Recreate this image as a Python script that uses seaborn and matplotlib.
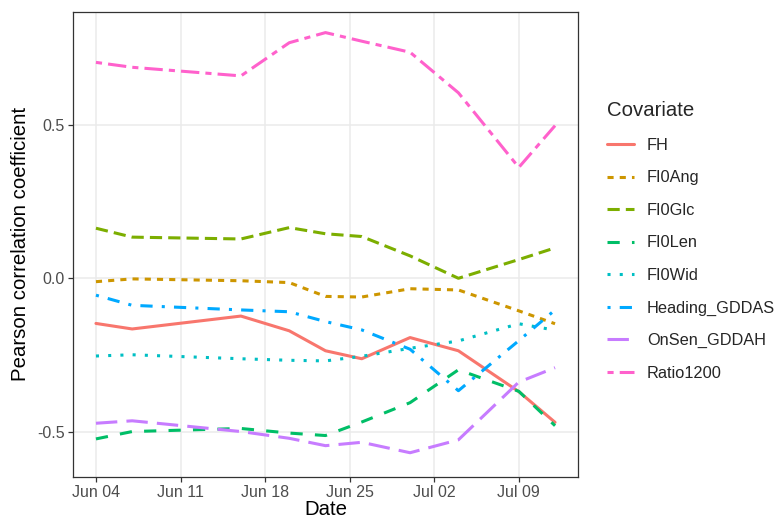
import numpy as np
import pandas as pd
import matplotlib
matplotlib.use("Agg")
import matplotlib.pyplot as plt
import matplotlib.dates as mdates
import seaborn as sns

dates = ["2019-06-04", "2019-06-07", "2019-06-16", "2019-06-20", "2019-06-23",
         "2019-06-26", "2019-06-30", "2019-07-04", "2019-07-09", "2019-07-12"]

FH = [-0.147, -0.165, -0.123, -0.171, -0.236, -0.262, -0.193, -0.236, -0.369, -0.469]
FI0Ang = [-0.011, -0.002, -0.008, -0.014, -0.059, -0.061, -0.034, -0.038, -0.106, -0.148]
FI0Glc = [0.163, 0.134, 0.128, 0.165, 0.145, 0.136, 0.073, 0.000, 0.061, 0.099]
FI0Len = [-0.523, -0.499, -0.489, -0.504, -0.512, -0.468, -0.405, -0.298, -0.368, -0.480]
FI0Wid = [-0.253, -0.249, -0.262, -0.267, -0.269, -0.254, -0.228, -0.204, -0.148, -0.169]
Heading_GDDAS = [-0.055, -0.088, -0.103, -0.109, -0.141, -0.168, -0.231, -0.366, -0.203, -0.103]
OnSen_GDDAH = [-0.472, -0.464, -0.499, -0.521, -0.545, -0.534, -0.568, -0.526, -0.338, -0.291]
Ratio1200 = [0.703, 0.687, 0.659, 0.767, 0.800, 0.772, 0.736, 0.604, 0.361, 0.497]

covariates = ["FH", "FI0Ang", "FI0Glc", "FI0Len", "FI0Wid",
              "Heading_GDDAS", "OnSen_GDDAH", "Ratio1200"]
series = [FH, FI0Ang, FI0Glc, FI0Len, FI0Wid, Heading_GDDAS, OnSen_GDDAH, Ratio1200]
colors = ["#F8766D", "#CD9600", "#7CAE00", "#00BE67", "#00BFC4",
          "#00A9FF", "#C77CFF", "#FF61CC"]
dash_styles = ["", (2, 2), (4, 2), (4, 4), (1, 3), (1, 3, 4, 3), (7, 3), (2, 2, 6, 2)]
xtick_dates = ["2019-06-04", "2019-06-11", "2019-06-18", "2019-06-25",
               "2019-07-02", "2019-07-09"]
ytick_vals = [-0.5, 0.0, 0.5]
ytick_labels = ["-0.5", "0.0", "0.5"]

df = pd.DataFrame({
    "Date": np.tile(pd.to_datetime(dates), len(covariates)),
    "Covariate": np.repeat(covariates, len(dates)),
    "r": np.concatenate([np.array(s) for s in series]),
})

sns.set_theme(style="white")
plt.rcParams["font.family"] = ["Liberation Sans", "DejaVu Sans"]
plt.rcParams["axes.unicode_minus"] = False

fig = plt.figure(figsize=(7.76, 5.19), dpi=100)
ax = fig.add_axes([73 / 776, 1 - 477 / 519, (578 - 73) / 776, (477 - 11.7) / 519])

ax.grid(True, color="#EBEBEB", linewidth=1.1)
ax.set_axisbelow(True)

sns.lineplot(data=df, x="Date", y="r", hue="Covariate", style="Covariate",
             hue_order=covariates, style_order=covariates,
             palette=dict(zip(covariates, colors)),
             dashes=dict(zip(covariates, dash_styles)),
             linewidth=2.2, ax=ax)

d0 = pd.Timestamp(dates[0])
d1 = pd.Timestamp(dates[-1])
span = (d1 - d0) * 0.05
ax.set_xlim(d0 - span, d1 + span)
ax.set_ylim(-0.647, 0.868)

ax.set_xticks(pd.to_datetime(xtick_dates))
ax.xaxis.set_major_formatter(mdates.DateFormatter("%b %d"))
ax.set_yticks(ytick_vals)
ax.set_yticklabels(ytick_labels)

ax.tick_params(axis="both", which="major", length=3.6, width=0.9, color="#333333",
               labelsize=11.5, labelcolor="#4D4D4D", pad=2.5, direction="out",
               bottom=True, left=True)
for sp in ax.spines.values():
    sp.set_color("#333333")
    sp.set_linewidth(0.9)

ax.set_xlabel("Date", fontsize=14.7, color="black", labelpad=0)
ax.set_ylabel("Pearson correlation coefficient", fontsize=14.7, color="black", labelpad=5)

handles, labels = ax.get_legend_handles_labels()
if ax.legend_ is not None:
    ax.legend_.remove()
leg = fig.legend(handles, labels, title="Covariate", loc="center left",
                 bbox_to_anchor=(592 / 776, 1 - 241 / 519), frameon=False,
                 fontsize=11.8, title_fontsize=14.7, handlelength=1.65,
                 handletextpad=0.8, labelspacing=1.07)
leg._legend_box.align = "left"
for line in leg.get_lines():
    line.set_linewidth(2.2)

fig.savefig("out.png", dpi=100)
